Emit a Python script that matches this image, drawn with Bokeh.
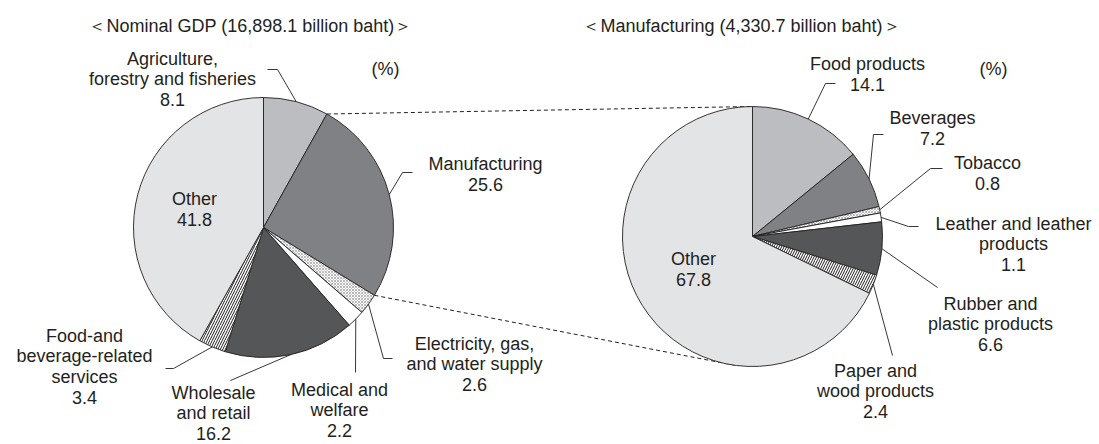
import math
from bokeh.plotting import figure
from bokeh.models import Range1d, ColumnDataSource
from bokeh.core.properties import value
from bokeh.embed import file_html
from bokeh.resources import INLINE

# ---------------- data ----------------
gdp_title = "＜Nominal GDP (16,898.1 billion baht)＞"
mfg_title = "＜Manufacturing (4,330.7 billion baht)＞"
unit_label = "(%)"

gdp_categories = ["Agriculture,\nforestry and fisheries", "Manufacturing",
                  "Electricity, gas,\nand water supply", "Medical and\nwelfare",
                  "Wholesale\nand retail", "Food-and\nbeverage-related\nservices", "Other"]
gdp_shares = [8.1, 25.6, 2.6, 2.2, 16.2, 3.4, 41.8]

mfg_categories = ["Food products", "Beverages", "Tobacco",
                  "Leather and leather\nproducts", "Rubber and\nplastic products",
                  "Paper and\nwood products", "Other"]
mfg_shares = [14.1, 7.2, 0.8, 1.1, 6.6, 2.4, 67.8]

# ---------------- styles / layout ----------------
W, H = 1099, 444
FONT = "Liberation Sans"
FS = "18px"
LH = 20.6
INK = "#231f20"
fills = ["#bcbdc0", "#808184", "#ffffff", "#ffffff", "#555658", "#ffffff", "#e3e4e6"]
hatches = [" ", " ", "x", " ", " ", "/", " "]
hatch_colors = [INK, INK, "#8a8a8a", INK, INK, INK, INK]
hatch_scales = [6, 6, 3, 6, 6, 5, 6]
hatch_weights = [1, 1, 0.6, 1, 1, 1, 1]

LEFT = dict(cx=263, cy=227, r=130)
RIGHT = dict(cx=752, cy=236, r=130)

# label layout (screen px, y down): text centre x, first line y, leader points
left_layout = [
    (172, 58, [(267, 69), (277, 69)]),
    (485, 163, [(412, 172), (402, 172)]),
    (474, 343, [(392, 358), (383, 358)]),
    (339, 389, [(355, 372)]),
    (213, 392, [(230, 380)]),
    (84, 335, [(165, 368), (173, 368)]),
    (194, 198, None),
]
right_layout = [
    (867, 63, [(835, 83), (825, 83)]),
    (932, 117, [(883, 134), (873, 134)]),
    (987, 162, [(942, 168), (930, 168)]),
    (1013, 223, [(918, 226), (908, 226)]),
    (990, 303, [(937, 287)]),
    (875, 370, [(892, 355)]),
    (693, 258, None),
]


def Y(y):
    return H - y


def edge_point(pie, frac):
    a = 2 * math.pi * frac
    return pie["cx"] + pie["r"] * math.sin(a), pie["cy"] - pie["r"] * math.cos(a)


p = figure(width=W, height=H, x_range=Range1d(0, W), y_range=Range1d(0, H),
           output_backend="svg", toolbar_location=None,
           x_axis_location=None, y_axis_location=None, min_border=0)
p.grid.visible = False
p.outline_line_color = None
p.background_fill_color = "white"
p.border_fill_color = "white"


def cumfracs(shares):
    tot = sum(shares)
    c = [0.0]
    for s in shares:
        c.append(c[-1] + s / tot)
    return c


gc = cumfracs(gdp_shares)
mc = cumfracs(mfg_shares)

# dashed connectors
x0, y0 = edge_point(LEFT, gc[1])
x1, y1 = edge_point(RIGHT, 0.0)
x2, y2 = edge_point(LEFT, gc[2])
x3, y3 = edge_point(RIGHT, 0.522)
p.multi_line(xs=[[x0, x1], [x2, x3]], ys=[[Y(y0), Y(y1)], [Y(y2), Y(y3)]],
             line_color=INK, line_width=1, line_dash="4 3")


def draw_pie(pie, shares, c):
    n = len(shares)
    src = ColumnDataSource(dict(
        x=[pie["cx"]] * n, y=[Y(pie["cy"])] * n,
        start=[math.pi / 2 - 2 * math.pi * c[i + 1] for i in range(n)],
        end=[math.pi / 2 - 2 * math.pi * c[i] for i in range(n)],
        fill=fills[:n], hatch=hatches[:n], hcol=hatch_colors[:n],
        hsc=hatch_scales[:n], hw=hatch_weights[:n],
    ))
    p.wedge(x="x", y="y", radius=pie["r"], start_angle="start", end_angle="end",
            direction="anticlock", fill_color="fill", line_color=INK, line_width=0.9,
            hatch_pattern="hatch", hatch_color="hcol", hatch_scale="hsc",
            hatch_weight="hw", source=src)


draw_pie(LEFT, gdp_shares, gc)
draw_pie(RIGHT, mfg_shares, mc)

tx, ty, tt = [], [], []
lxs, lys = [], []


def add_labels(pie, cats, shares, c, layout):
    for i, (name, val) in enumerate(zip(cats, shares)):
        cx, fy, leader = layout[i]
        lines = name.split("\n") + [f"{val:.1f}"]
        for k, ln in enumerate(lines):
            tx.append(cx)
            ty.append(Y(fy + k * LH))
            tt.append(ln)
        if leader:
            ex, ey = edge_point(pie, (c[i] + c[i + 1]) / 2)
            pts = list(leader) + [(ex, ey)]
            lxs.append([q[0] for q in pts])
            lys.append([Y(q[1]) for q in pts])


add_labels(LEFT, gdp_categories, gdp_shares, gc, left_layout)
add_labels(RIGHT, mfg_categories, mfg_shares, mc, right_layout)

p.multi_line(xs=lxs, ys=lys, line_color=INK, line_width=0.9)

for (x, y, s) in [(250, 25, gdp_title), (741, 25, mfg_title),
                  (385, 68, unit_label), (993, 68, unit_label)]:
    tx.append(x)
    ty.append(Y(y))
    tt.append(s)

p.text(x=tx, y=ty, text=tt, text_align="center", text_baseline="middle",
       text_font=value(FONT), text_font_size=FS, text_color=INK)

open("out.html", "w").write(file_html(p, INLINE))
